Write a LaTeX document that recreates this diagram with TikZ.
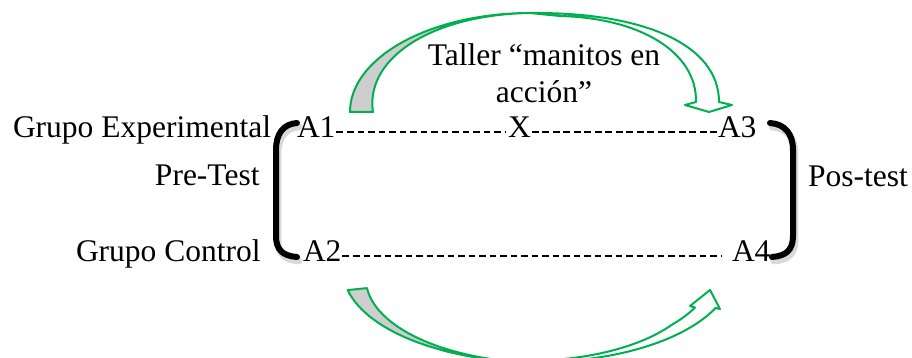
\documentclass[tikz,border=0pt]{standalone}
\usepackage{fontspec}
\setmainfont{Liberation Serif}
\usetikzlibrary{calc}
\definecolor{verde}{RGB}{0,176,80}
\definecolor{gris}{RGB}{206,206,206}
\tikzset{
  txt/.style={font=\fontsize{15.75}{18.5}\selectfont, inner sep=0pt, outer sep=0pt},
  guion/.style={line width=1.1pt, dash pattern=on 3.4pt off 1.85pt},
  llave/.style={line width=3pt, line cap=round},
  sombra/.style={line width=3.4pt, line cap=round, black!30, opacity=0.5},
  cinta/.style={draw=verde, line width=1pt, line join=round},
}

\begin{document}
\begin{tikzpicture}[x=0.5pt,y=-0.5pt]
\useasboundingbox (0,0) rectangle (912,358);

% flecha curva de arriba
\draw[cinta, fill=white] (530,13) .. controls (645,12) and (719,45) .. (719,102)
    -- (732,105) -- (709,112) -- (685,105) -- (696,102)
    .. controls (697,52) and (640,18) .. (560,16) -- cycle;
\draw[cinta, fill=gris] plot[domain=180:90, samples=50] ({530+180*cos(\x)},{112-99*sin(\x)})
    -- plot[domain=90:180, samples=50] ({530+(157+23*(180-\x)/90)*cos(\x)},{112-(95+4*(180-\x)/90)*sin(\x)}) -- cycle;

% flecha curva de abajo
\draw[cinta, fill=white] plot[domain=60:155.6, samples=60] ({538-195*cos(\x)},{270+92*sin(\x)})
    -- (720,309) -- (710,290) -- (690,306)
    -- plot[domain=153.8:60, samples=60] ({538-(175+20*max(0,min(1,(140-\x)/60)))*cos(\x)},{270+(85+7*max(0,min(1,(140-\x)/60)))*sin(\x)}) -- cycle;
\draw[cinta, fill=gris] plot[domain=12.6:78, samples=50] ({538-195*cos(\x)},{270+92*sin(\x)})
    -- plot[domain=78:12.3, samples=50] ({538-(175+20*(\x-12.3)/65.7)*cos(\x)},{270+(85+7*(\x-12.3)/65.7)*sin(\x)}) -- cycle;

% textos
\node[txt, anchor=north, align=center] (taller) at (544,44) {Taller “manitos en\\acción”};
\node[txt, anchor=base west] (gexp) at (13,138) {Grupo Experimental};
\node[txt, anchor=base west] (pre) at (155,186) {Pre-Test};
\node[txt, anchor=base west] (gctl) at (76,262) {Grupo Control};
\node[txt, anchor=base west] (pos) at (808,187) {Pos-test};
\node[txt, anchor=base west] (a1) at (297,138) {A1};
\node[txt, anchor=base west] (x) at (508,138) {X};
\node[txt, anchor=base west] (a3) at (718,138) {A3};
\node[txt, anchor=base west] (a2) at (303,262) {A2};
\node[txt, anchor=base west] (a4) at (732,262) {A4};

% lineas punteadas
\draw[guion] ($(a1.base east)+(1,-6)$) -- ($(x.base west)+(-2,-6)$);
\draw[guion] ($(x.base east)+(1,-6)$) -- ($(a3.base west)+(-1,-6)$);
\draw[guion] ($(a2.base east)+(1,-6)$) -- ($(a4.base west)+(-10,-6)$);

% corchetes
\draw[sombra] (299,127) .. controls (285,128) and (278,138) .. (278,154) -- (278,240) .. controls (278,254) and (285,260) .. (299,261);
\draw[sombra] (772,127) .. controls (787,128) and (795,138) .. (795,154) -- (795,240) .. controls (795,254) and (788,260) .. (774,261);
\draw[llave] (297,123) .. controls (283,124) and (276,134) .. (276,150) -- (276,236) .. controls (276,250) and (283,256) .. (297,257);
\draw[llave] (770,123) .. controls (785,124) and (793,134) .. (793,150) -- (793,236) .. controls (793,250) and (786,256) .. (772,257);
\end{tikzpicture}
\end{document}
